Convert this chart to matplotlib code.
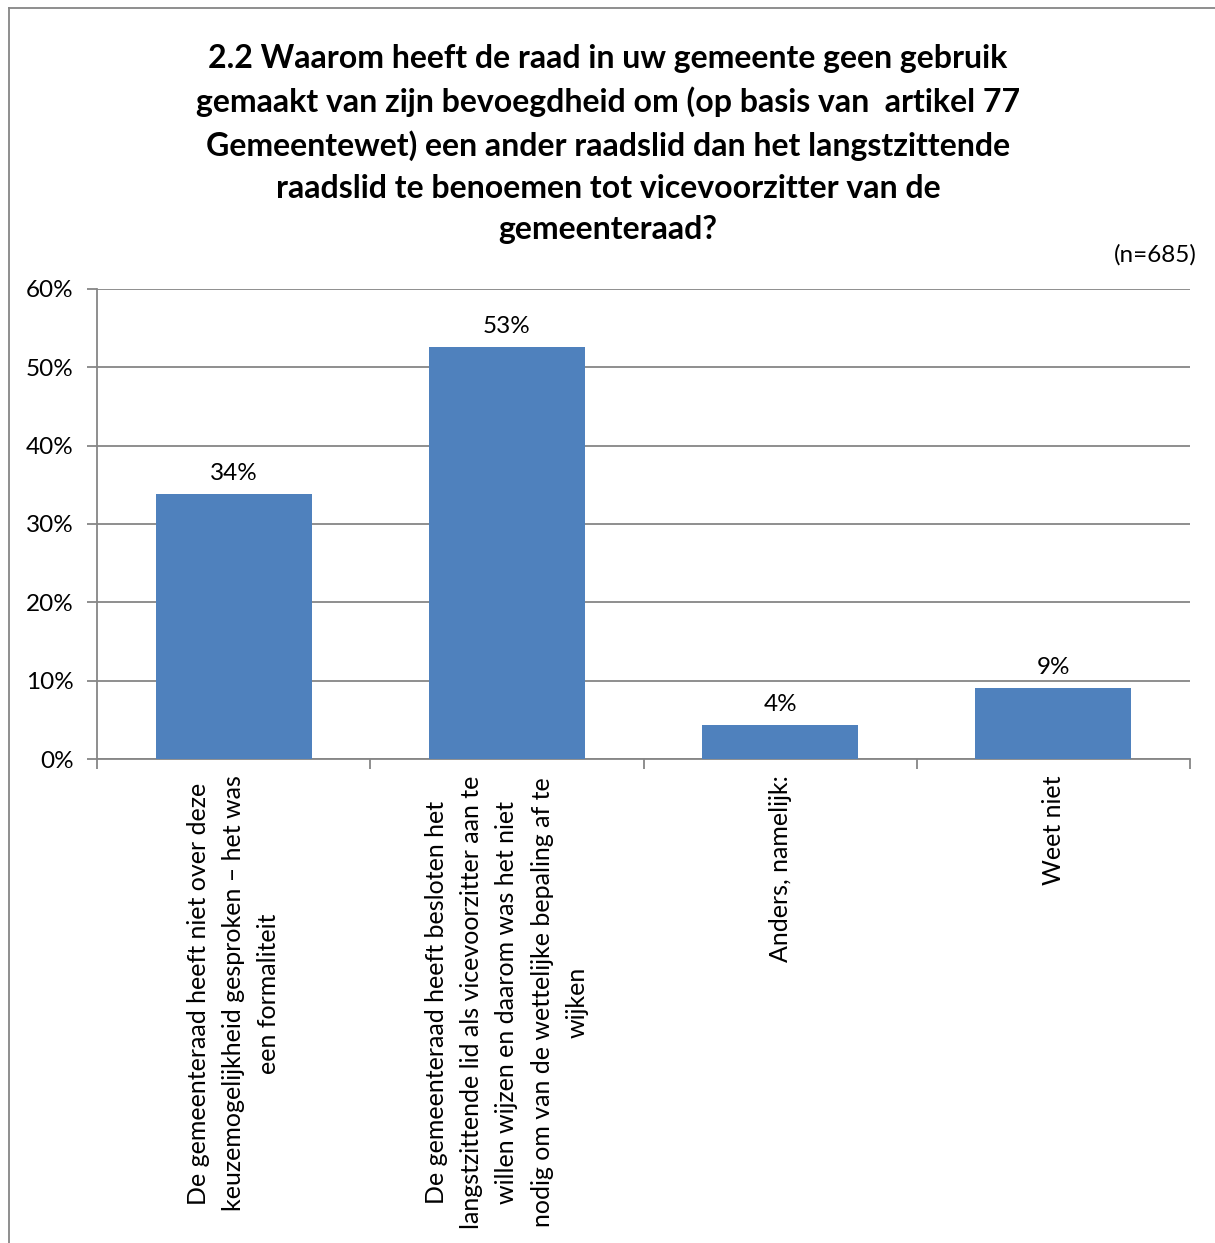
import matplotlib
matplotlib.use('Agg')
import matplotlib.pyplot as plt
from matplotlib.lines import Line2D
import numpy as np

plt.rcParams['font.family'] = ['Lato', 'DejaVu Sans']

title = ('2.2 Waarom heeft de raad in uw gemeente geen gebruik\n'
         'gemaakt van zijn bevoegdheid om (op basis van  artikel 77\n'
         'Gemeentewet) een ander raadslid dan het langstzittende\n'
         'raadslid te benoemen tot vicevoorzitter van de\n'
         'gemeenteraad?')

categories = [
    'De gemeenteraad heeft niet over deze\nkeuzemogelijkheid gesproken \u2013 het was\neen formaliteit',
    'De gemeenteraad heeft besloten het\nlangstzittende lid als vicevoorzitter aan te\nwillen wijzen en daarom was het niet\nnodig om van de wettelijke bepaling af te\nwijken',
    'Anders, namelijk:',
    'Weet niet',
]
values = [33.8, 52.6, 4.3, 9.1]
labels = ['34%', '53%', '4%', '9%']
yticks = [0, 10, 20, 30, 40, 50, 60]

W, H = 1215, 1243
fig = plt.figure(figsize=(W / 100, H / 100), dpi=100)
ax = fig.add_axes([97 / W, 1 - 759 / H, (1190 - 97) / W, (759 - 289) / H])

grey = '#868686'
x = np.arange(len(categories))
ax.bar(x, values, width=0.57, color='#4F81BD', zorder=3)
for xi, v, lab in zip(x, values, labels):
    ax.annotate(lab, (xi, v), xytext=(0, 10), textcoords='offset pixels',
                ha='center', va='bottom', fontsize=17.5)

ax.set_xlim(-0.5, len(categories) - 0.5)
ax.set_ylim(0, 60)
ax.set_yticks(yticks)
ax.set_yticklabels(['{}%'.format(t) for t in yticks], fontsize=17.5)
ax.yaxis.grid(True, color=grey, lw=1.3, zorder=0)

ax.set_xticks(np.arange(len(categories) + 1) - 0.5)
ax.set_xticklabels([])
ax.tick_params(axis='x', direction='out', length=7, color=grey, width=1.3)
ax.tick_params(axis='y', direction='out', length=7, color=grey, width=1.3, pad=10)
for xi, c in zip(x, categories):
    ax.text(xi, -0.035, c, transform=ax.get_xaxis_transform(), rotation=90,
            ha='center', va='top', multialignment='center', fontsize=18,
            linespacing=1.65)

for s in ['top', 'right']:
    ax.spines[s].set_visible(False)
for s in ['left', 'bottom']:
    ax.spines[s].set_color(grey)
    ax.spines[s].set_linewidth(1.3)

fig.text(608 / W, 1 - 144 / H, title, ha='center', va='center', fontsize=23,
         fontweight='bold', linespacing=1.52)
fig.text(1197 / W, 1 - 255 / H, '(n=685)', ha='right', va='center', fontsize=17.5)

# chart border
fig.add_artist(Line2D([9 / W, 9 / W], [0, 1 - 8 / H], color=grey, lw=1.3))
fig.add_artist(Line2D([9 / W, 1], [1 - 8 / H, 1 - 8 / H], color=grey, lw=1.3))

fig.savefig('out.png', dpi=100)
